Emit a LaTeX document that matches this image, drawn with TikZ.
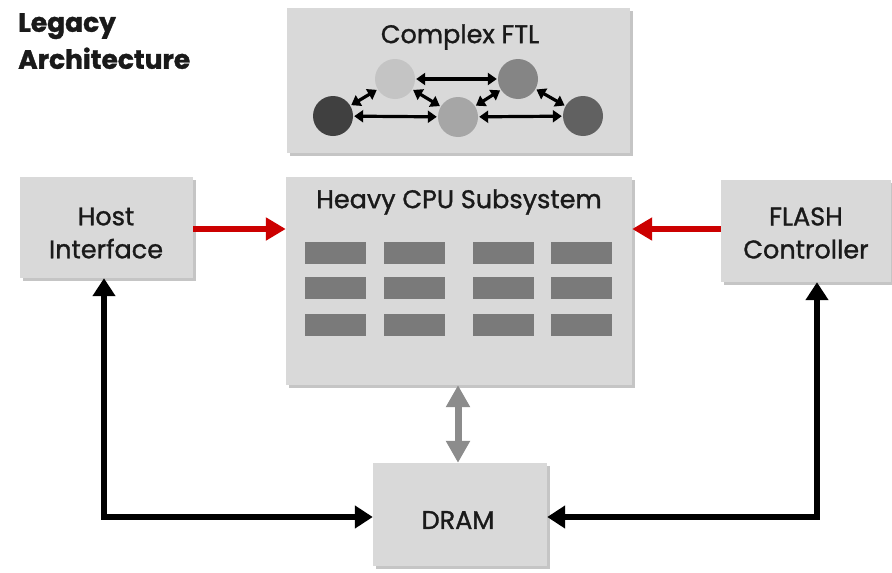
\documentclass[tikz,border=0pt]{standalone}
\usepackage{fontspec}
\setmainfont{Poppins}[FakeBold=1.2]
\usetikzlibrary{arrows.meta,shadows,calc}
\definecolor{boxgray}{HTML}{D9D9D9}
\definecolor{cellgray}{HTML}{7A7A7A}
\definecolor{redarrow}{HTML}{CC0000}
\definecolor{txt}{HTML}{1A1A1A}
\tikzset{
  box/.style={fill=boxgray, draw=none, drop shadow={shadow xshift=3pt, shadow yshift=-3pt, fill=black!45, opacity=0.5}, inner sep=0pt},
  lbl/.style={text=txt, align=center, font=\fontsize{25.5}{33}\selectfont, inner sep=0pt},
  cell/.style={fill=cellgray, draw=none, minimum width=61pt, minimum height=22pt, inner sep=0pt},
  circ/.style={circle, draw=none, minimum size=40pt, inner sep=0pt},
  ftlarrow/.style={{Triangle[length=9pt,width=12pt]}-{Triangle[length=9pt,width=12pt]}, line width=3.2pt, black, shorten <=1pt, shorten >=1pt},
  redarr/.style={-{Triangle[length=20pt,width=22pt]}, line width=6pt, redarrow},
  blkarr/.style={{Triangle[length=18pt,width=22pt]}-{Triangle[length=18pt,width=22pt]}, line width=6pt, black},
  grayarr/.style={{Triangle[length=22pt,width=23pt]}-{Triangle[length=22pt,width=23pt]}, line width=7pt, black!45},
}
\begin{document}
\begin{tikzpicture}[x=1pt,y=-1pt]
\useasboundingbox[fill=white] (0,0) rectangle (892,573);
% title
\node[anchor=north west, align=left, font=\bfseries\fontsize{26.5}{37}\selectfont, text=txt, inner sep=0pt] (title) at (18,13) {Legacy\\Architecture};
% boxes
\node[box, minimum width=343pt, minimum height=145pt] (ftl) at (458.5,80.5) {};
\node[lbl] (ftltitle) at (460,37) {Complex FTL};
\node[box, minimum width=346pt, minimum height=208pt] (cpu) at (459,281) {};
\node[lbl] (cputitle) at (459,202) {Heavy CPU Subsystem};
\node[box, minimum width=173pt, minimum height=101pt] (host) at (106.5,227.5) {};
\node[lbl] (hostlbl) at (106,233) {Host\\Interface};
\node[box, minimum width=170pt, minimum height=102pt] (flash) at (806,231) {};
\node[lbl] (flashlbl) at (806,233) {FLASH\\Controller};
\node[box, minimum width=174pt, minimum height=103pt] (dram) at (460,514.5) {};
\node[lbl] (dramlbl) at (458,520) {DRAM};
% cells
\foreach \cx [count=\i] in {335.5,414.5,503,581}{
  \foreach \cy [count=\j] in {252.5,288,325}{
    \node[cell] (cell\i\j) at (\cx,\cy) {};
  }
}
% FTL circles
\node[circ, fill=black!75] (c1) at (333,116) {};
\node[circ, fill=black!23] (c2) at (395,79) {};
\node[circ, fill=black!35] (c3) at (458,117) {};
\node[circ, fill=black!48] (c4) at (518,79) {};
\node[circ, fill=black!62] (c5) at (583,116) {};
\draw[ftlarrow] (c1) -- (c2);
\draw[ftlarrow] (c1) -- (c3);
\draw[ftlarrow] (c2) -- (c4);
\draw[ftlarrow] (c2) -- (c3);
\draw[ftlarrow] (c3) -- (c4);
\draw[ftlarrow] (c3) -- (c5);
\draw[ftlarrow] (c4) -- (c5);
% red arrows
\draw[redarr] (host.east |- 0,229) -- (cpu.west |- 0,229);
\draw[redarr] (flash.west |- 0,229) -- (cpu.east |- 0,229);
% gray arrow
\draw[grayarr] (cpu.south -| 458,0) -- (dram.north -| 458,0);
% black arrows
\coordinate (hb) at (104,517);
\coordinate (fb) at (817,517);
\draw[blkarr] (host.south -| hb) -- (hb) -- (dram.west |- hb);
\draw[blkarr] (flash.south -| fb) -- (fb) -- (dram.east |- fb);
\end{tikzpicture}
\end{document}
